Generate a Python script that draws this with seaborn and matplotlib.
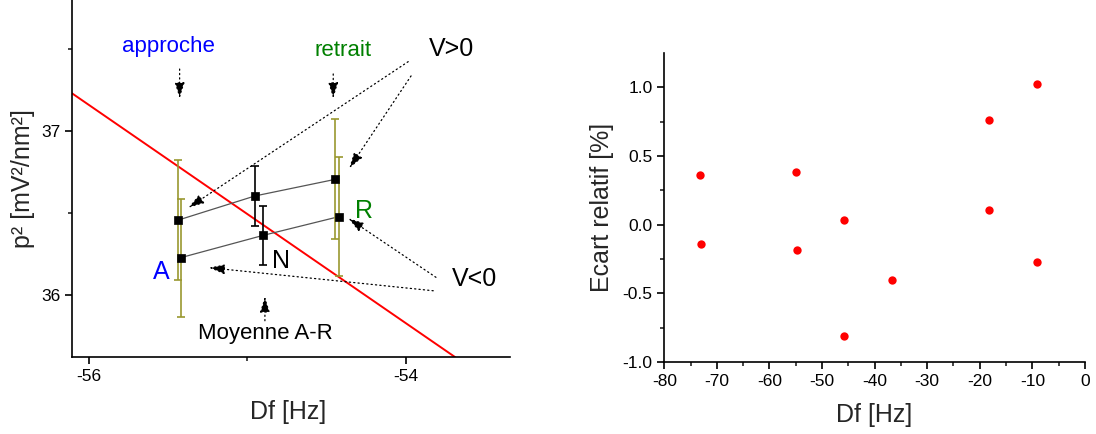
import matplotlib
matplotlib.use("Agg")
import matplotlib.pyplot as plt
import seaborn as sns
import pandas as pd

# --- left panel data: p^2 vs Df, approche (A), moyenne (N), retrait (R)
df_vpos = [-55.44, -54.953, -54.448]
p2_vpos = [36.454, 36.602, 36.703]
err_vpos = [0.365, 0.184, 0.366]

df_vneg = [-55.42, -54.90, -54.423]
p2_vneg = [36.226, 36.362, 36.476]
err_vneg = [0.36, 0.181, 0.365]

# red reference line (two end points)
line_df = [-56.107, -53.691]
line_p2 = [37.228, 35.62]

# --- right panel data: relative deviation vs Df
ecart_df = [-73.15, -73.09, -54.90, -54.83, -45.77, -45.83, -36.64, -18.32, -18.32, -9.19, -9.19]
ecart_pct = [0.362, -0.143, 0.386, -0.184, 0.032, -0.808, -0.405, 0.760, 0.104, 1.024, -0.274]

sns.set_theme(style="ticks")
plt.rcParams["font.family"] = ["Liberation Sans", "DejaVu Sans"]
plt.rcParams["axes.unicode_minus"] = False
plt.rcParams["xtick.direction"] = "out"
plt.rcParams["ytick.direction"] = "out"

fig = plt.figure(figsize=(10.96, 4.34), dpi=100)
ax1 = fig.add_axes([0.0657, 0.1774, 0.3996, 0.8226])
ax2 = fig.add_axes([0.6061, 0.1659, 0.3838, 0.7113])

olive = "#9a9830"

# red line
sns.lineplot(x=line_df, y=line_p2, ax=ax1, color="red", lw=1.4, zorder=2)

# connecting lines A-N-R
for xs, ys in [(df_vpos, p2_vpos), (df_vneg, p2_vneg)]:
    sns.lineplot(x=xs, y=ys, ax=ax1, color="#555555", lw=0.9, zorder=3, sort=False)

# error bars: A and R in olive, N in black
for xs, ys, es in [(df_vpos, p2_vpos, err_vpos), (df_vneg, p2_vneg, err_vneg)]:
    for i in range(3):
        c = "black" if i == 1 else olive
        ax1.errorbar(xs[i], ys[i], yerr=es[i], fmt="none", ecolor=c,
                     elinewidth=1.2, capsize=3, capthick=1.2, zorder=3)
    pts = pd.DataFrame({"Df": xs, "p2": ys})
    sns.scatterplot(data=pts, x="Df", y="p2", ax=ax1, marker="s", s=28,
                    color="black", edgecolor="black", linewidth=0.5, zorder=4)

ax1.set_xlim(-56.107, -53.344)
ax1.set_ylim(35.62, 37.797)
ax1.set_xticks([-56, -54])
ax1.set_xticks([-55], minor=True)
ax1.set_yticks([36, 37])
ax1.set_yticks([36.5, 37.5], minor=True)

# annotation texts
ax1.text(-55.50, 37.516, "approche", color="blue", fontsize=16, ha="center", va="center")
ax1.text(-54.40, 37.488, "retrait", color="green", fontsize=16, ha="center", va="center")
ax1.text(-53.71, 37.496, "V>0", color="black", fontsize=18, ha="center", va="center")
ax1.text(-53.565, 36.094, "V<0", color="black", fontsize=18, ha="center", va="center")
ax1.text(-55.546, 36.137, "A", color="blue", fontsize=18, ha="center", va="center")
ax1.text(-54.263, 36.512, "R", color="green", fontsize=18, ha="center", va="center")
ax1.text(-54.79, 36.207, "N", color="black", fontsize=18, ha="center", va="center")
ax1.text(-54.89, 35.765, "Moyenne A-R", color="black", fontsize=16, ha="center", va="center")

# dotted arrows: (start, end) in data coords
arrows = [
    ((-55.428, 37.376), (-55.428, 37.197)),
    ((-54.459, 37.346), (-54.459, 37.197)),
    ((-53.986, 37.421), (-55.373, 36.530)),
    ((-53.968, 37.334), (-54.358, 36.771)),
    ((-53.811, 36.106), (-54.364, 36.466)),
    ((-53.828, 36.024), (-55.243, 36.165)),
    ((-54.890, 35.841), (-54.890, 35.989)),
]
for (x0, y0), (x1, y1) in arrows:
    ax1.annotate("", xy=(x1, y1), xytext=(x0, y0),
                 arrowprops=dict(arrowstyle="-|>,head_length=0.8,head_width=0.25",
                                 color="black", lw=0.9, ls=(0, (1, 2.5)),
                                 shrinkA=0, shrinkB=0))

ax1.set_xlabel("Df [Hz]", fontsize=18, va="center")
ax1.set_ylabel("p² [mV²/nm²]", fontsize=18, va="center")
ax1.xaxis.set_label_coords(0.4925, -0.153)
ax1.yaxis.set_label_coords(-0.1126, 0.5)

# right panel
pts2 = pd.DataFrame({"Df": ecart_df, "ecart": ecart_pct})
sns.scatterplot(data=pts2, x="Df", y="ecart", ax=ax2, color="red", s=36,
                edgecolor="red", linewidth=0, zorder=3)
ax2.set_xlim(-80, 0)
ax2.set_ylim(-1.0, 1.248)
ax2.set_xticks(range(-80, 1, 10))
ax2.set_xticks(range(-75, 0, 10), minor=True)
ax2.set_yticks([-1.0, -0.5, 0.0, 0.5, 1.0])
ax2.set_yticks([-0.75, -0.25, 0.25, 0.75], minor=True)
ax2.set_xlabel("Df [Hz]", fontsize=18, va="center")
ax2.set_ylabel("Ecart relatif [%]", fontsize=18, va="center")
ax2.xaxis.set_label_coords(0.50, -0.172)
ax2.yaxis.set_label_coords(-0.148, 0.5)

for ax in (ax1, ax2):
    sns.despine(ax=ax)
    for s in ("left", "bottom"):
        ax.spines[s].set_linewidth(1.2)
        ax.spines[s].set_color("black")
    ax.tick_params(which="major", length=5, width=1.2, labelsize=12.5, colors="black")
    ax.tick_params(which="minor", length=3, width=1.2)
    if ax.get_legend() is not None:
        ax.get_legend().remove()

fig.savefig("out.png", dpi=100)
